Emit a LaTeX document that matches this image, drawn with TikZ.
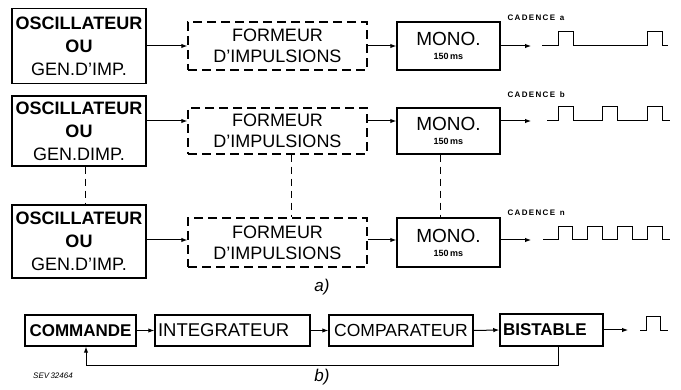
\documentclass[tikz,border=0pt]{standalone}
\usepackage{fontspec}
\setmainfont{Liberation Sans}
\usetikzlibrary{arrows.meta}
\begin{document}
\begin{tikzpicture}[x=1pt,y=-1pt,
  box/.style={draw,line width=1.5pt,inner sep=0pt,align=center},
  dbox/.style={draw,line width=1.4pt,dash pattern=on 9pt off 5pt,inner sep=0pt,align=center},
  arr/.style={line width=1pt,-{Latex[length=6pt,width=4.5pt]}},
  vdash/.style={line width=0.9pt,dash pattern=on 7pt off 5pt},
  wave/.style={line width=1pt},
  big/.style={font=\fontsize{18}{23}\selectfont\bfseries},
  mid/.style={font=\fontsize{18}{21}\selectfont},
  bot/.style={font=\fontsize{17.5}{20}\selectfont},
  cad/.style={font=\fontsize{8}{9}\selectfont\bfseries,anchor=west}]
\useasboundingbox (0,0) rectangle (681,390);
% row a
\node[box,big,minimum width=134pt,minimum height=75pt] (o1) at (79,46) {OSCILLATEUR\\OU\\{\mdseries GEN.D'IMP.}};
\node[dbox,mid,minimum width=179pt,minimum height=48pt] (f1) at (277.5,46) {FORMEUR\\D'IMPULSIONS};
\node[box,minimum width=103pt,minimum height=48pt] (m1) at (448.5,46) {{\fontsize{19}{19}\selectfont MONO.}\\[2pt]{\fontsize{9}{9}\selectfont\bfseries 150\,ms}};
\coordinate (e1) at (531,46);
\draw[arr] (o1.east) -- (f1.west);
\draw[arr] (f1.east) -- (m1.west);
\draw[arr] (m1.east) -- (e1);
\node[cad] (c1) at (504,18) {C\,A\,D\,E\,N\,C\,E\,\, a};
\draw[wave] (542,46) -- (558,46) -- (558,32) -- (573,32) -- (573,46) -- (647,46) -- (647,32) -- (662,32) -- (662,46) -- (668,46);
% row b
\node[box,big,minimum width=134pt,minimum height=70pt] (o2) at (79,131) {OSCILLATEUR\\OU\\{\mdseries GEN.DIMP.}};
\node[dbox,mid,minimum width=179pt,minimum height=46pt] (f2) at (277.5,131) {FORMEUR\\D'IMPULSIONS};
\node[box,minimum width=103pt,minimum height=46pt] (m2) at (448.5,131) {{\fontsize{19}{19}\selectfont MONO.}\\[2pt]{\fontsize{9}{9}\selectfont\bfseries 150\,ms}};
\coordinate (e2) at (531,121);
\draw[arr] (o2.east |- 0,121) -- (f2.west |- 0,121);
\draw[arr] (f2.east |- 0,121) -- (m2.west |- 0,121);
\draw[arr] (m2.east |- 0,121) -- (e2);
\node[cad] (c2) at (504,95) {C\,A\,D\,E\,N\,C\,E\,\, b};
\draw[wave] (547,121) -- (558,121) -- (558,107) -- (573,107) -- (573,121) -- (602,121) -- (602,107) -- (617,107) -- (617,121) -- (647,121) -- (647,107) -- (662,107) -- (662,121) -- (670,121);
% row n
\node[box,big,minimum width=134pt,minimum height=73pt] (o3) at (79,241.5) {OSCILLATEUR\\OU\\{\mdseries GEN.D'IMP.}};
\node[dbox,mid,minimum width=179pt,minimum height=49pt] (f3) at (277.5,242.5) {FORMEUR\\D'IMPULSIONS};
\node[box,minimum width=103pt,minimum height=49pt] (m3) at (448.5,242.5) {{\fontsize{19}{19}\selectfont MONO.}\\[2pt]{\fontsize{9}{9}\selectfont\bfseries 150\,ms}};
\coordinate (e3) at (531,240);
\draw[arr] (o3.east |- 0,240) -- (f3.west |- 0,240);
\draw[arr] (f3.east |- 0,240) -- (m3.west |- 0,240);
\draw[arr] (m3.east |- 0,240) -- (e3);
\node[cad] (c3) at (504,213) {C\,A\,D\,E\,N\,C\,E\,\, n};
\draw[wave] (543,240) -- (558,240) -- (558,227) -- (572,227) -- (572,240) -- (587,240) -- (587,227) -- (602,227) -- (602,240) -- (617,240) -- (617,227) -- (632,227) -- (632,240) -- (647,240) -- (647,227) -- (662,227) -- (662,240) -- (670,240);
% dashed links
\draw[vdash] ([xshift=6pt]o2.south) -- ([xshift=6pt]o3.north);
\draw[vdash] ([xshift=14pt]f2.south) -- ([xshift=14pt]f3.north);
\draw[vdash] ([xshift=-8pt]m2.south) -- ([xshift=-8pt]m3.north);
\node[font=\fontsize{17}{17}\selectfont\itshape] (la) at (322,287) {a)};
% part b
\node[box,font=\fontsize{17}{20}\selectfont\bfseries,minimum width=111pt,minimum height=31pt] (cmd) at (80.5,330.5) {COMMANDE};
\node[box,font=\fontsize{18.5}{20}\selectfont,minimum width=155pt,minimum height=31pt,text width=149pt,align=left] (int) at (232.5,330.5) {INTEGRATEUR};
\node[box,bot,minimum width=144pt,minimum height=31pt] (cmp) at (401,330.5) {COMPARATEUR};
\node[box,font=\fontsize{17}{20}\selectfont\bfseries,minimum width=103pt,minimum height=32pt,text width=97pt,align=left] (bis) at (551.5,330) {BISTABLE};
\coordinate (eb) at (628,330);
\coordinate (fb) at (558,366);
\draw[arr] (cmd.east) -- (int.west);
\draw[arr] (int.east) -- (cmp.west);
\draw[arr] (cmp.east) -- (bis.west);
\draw[arr] (bis.east) -- (eb);
\draw[wave] (640,331) -- (646,331) -- (646,317) -- (660,317) -- (660,331) -- (668,331);
\draw[arr] (bis.south -| fb) -- (fb) -- (86,366) -- (cmd.south -| 86,0);
\node[font=\fontsize{8}{8}\selectfont\itshape] (sev) at (53,376) {SEV\,32464};
\node[font=\fontsize{17}{17}\selectfont\itshape] (lb) at (322,377) {b)};
\end{tikzpicture}
\end{document}
